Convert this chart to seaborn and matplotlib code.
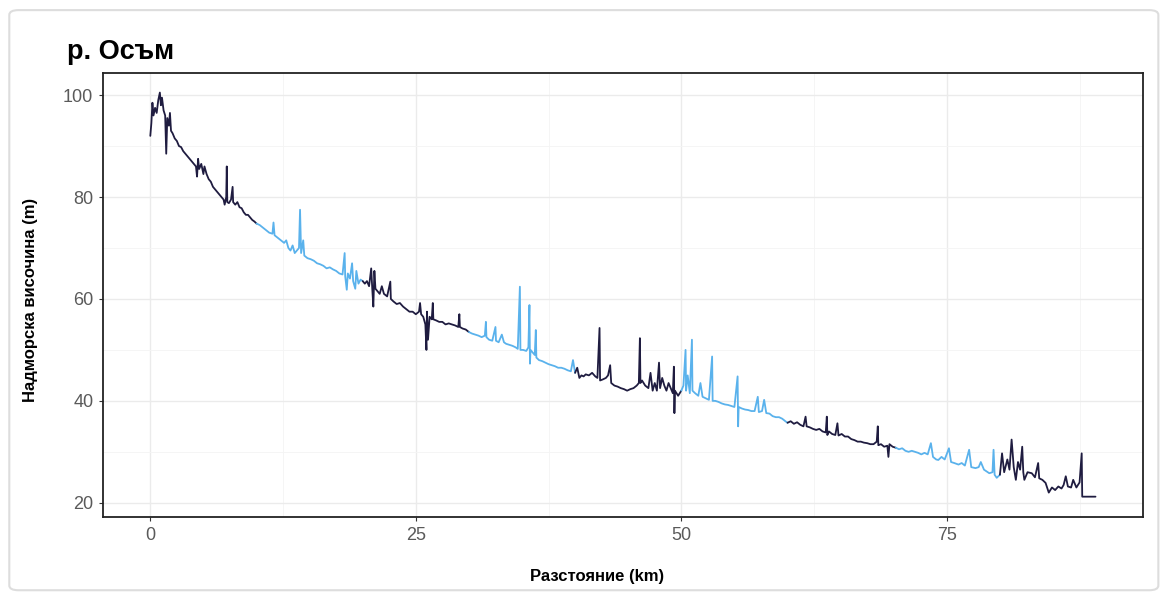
import matplotlib
matplotlib.use("Agg")
import matplotlib.pyplot as plt
from matplotlib.patches import FancyBboxPatch
import seaborn as sns
import pandas as pd

# разстояние (km) и надморска височина (m), отчетени от графиката
km = [0.0, 0.1, 0.2, 0.3, 0.45, 0.6, 0.75, 0.9, 1.0, 1.1, 1.25, 1.4, 1.5, 1.6, 1.75, 1.85, 1.95,
      2.1, 2.3, 2.5, 2.7, 2.9, 3.1, 3.3, 3.5, 3.7, 3.9, 4.1, 4.3, 4.4, 4.5, 4.6, 4.8, 5.0, 5.1,
      5.3, 5.5, 5.7, 5.9, 6.1, 6.3, 6.5, 6.7, 6.9, 7.0, 7.15, 7.2, 7.25, 7.4, 7.6, 7.75, 7.8,
      8.0, 8.2, 8.4, 8.6, 8.8, 9.0, 9.2, 9.4, 9.6, 9.8, 10.0,
      10.3, 10.6, 10.9, 11.2, 11.5, 11.6, 11.7, 12.0, 12.3, 12.6, 12.8, 13.0, 13.2, 13.4, 13.6,
      13.8, 14.0, 14.1, 14.2, 14.4, 14.5, 14.8, 15.1, 15.4, 15.7, 16.0, 16.3, 16.6, 16.9, 17.2,
      17.5, 17.8, 18.1, 18.3, 18.35, 18.5, 18.6, 18.8, 19.0, 19.1, 19.3, 19.4, 19.6, 19.8, 20.0,
      20.2, 20.4, 20.6, 20.8, 20.9, 21.0, 21.1, 21.2, 21.4, 21.6, 21.8, 22.0, 22.3, 22.6, 22.65,
      22.9, 23.2, 23.5, 23.8, 24.1, 24.4, 24.7, 25.0, 25.3, 25.4, 25.5, 25.7, 25.9, 26.0, 26.05,
      26.15, 26.3, 26.5, 26.6, 26.65, 26.9, 27.2, 27.5, 27.8, 28.1, 28.4, 28.7, 29.0, 29.1,
      29.15, 29.4, 29.7, 30.0,
      30.3, 30.6, 30.9, 31.2, 31.5, 31.6, 31.65, 31.9, 32.2, 32.5, 32.55, 32.8, 33.1, 33.3, 33.5,
      33.8, 34.1, 34.4, 34.6, 34.8, 34.85, 35.1, 35.4, 35.6, 35.7, 35.75, 35.8, 36.0, 36.2, 36.3,
      36.35, 36.6, 36.9, 37.2, 37.5, 37.8, 38.1, 38.4, 38.7, 39.0, 39.3, 39.6, 39.8, 40.0,
      40.2, 40.4, 40.6, 40.8, 41.0, 41.3, 41.6, 41.9, 42.1, 42.3, 42.35, 42.6, 42.9, 43.1, 43.3,
      43.4, 43.7, 44.0, 44.3, 44.6, 44.9, 45.2, 45.5, 45.8, 46.0, 46.1, 46.15, 46.3, 46.6, 46.9,
      47.1, 47.3, 47.5, 47.7, 47.9, 48.0, 48.2, 48.4, 48.6, 48.8, 49.0, 49.2, 49.3, 49.35, 49.4,
      49.7, 50.0,
      50.2, 50.4, 50.45, 50.6, 50.8, 51.0, 51.05, 51.3, 51.6, 51.8, 52.0, 52.3, 52.6, 52.9, 52.95,
      53.2, 53.5, 53.8, 54.1, 54.4, 54.7, 55.0, 55.3, 55.35, 55.4, 55.7, 56.0, 56.3, 56.6, 56.9,
      57.2, 57.3, 57.6, 57.8, 58.0, 58.3, 58.6, 58.9, 59.2, 59.5, 59.8, 60.0,
      60.3, 60.6, 60.9, 61.2, 61.5, 61.7, 61.8, 62.1, 62.4, 62.7, 63.0, 63.3, 63.6, 63.7, 63.75,
      63.9, 64.2, 64.5, 64.7, 64.8, 65.1, 65.4, 65.7, 66.0, 66.3, 66.6, 66.9, 67.2, 67.5, 67.8,
      68.1, 68.4, 68.5, 68.55, 68.8, 69.1, 69.4, 69.5, 69.6, 69.9,
      70.2, 70.5, 70.8, 71.1, 71.4, 71.7, 72.0, 72.3, 72.6, 72.9, 73.2, 73.5, 73.7, 74.0, 74.2,
      74.5, 74.8, 75.2, 75.4, 75.7, 76.1, 76.4, 76.7, 77.1, 77.3, 77.7, 78.0, 78.2, 78.5, 79.0,
      79.3, 79.4, 79.5, 79.7, 80.0,
      80.2, 80.4, 80.7, 80.9, 81.1, 81.3, 81.5, 81.7, 81.9, 82.1, 82.2, 82.3, 82.6, 83.0, 83.3,
      83.6, 83.7, 84.0, 84.3, 84.6, 84.9, 85.2, 85.5, 85.8, 86.0, 86.2, 86.4, 86.7, 86.9, 87.2,
      87.5, 87.7, 87.75, 88.2, 89.0]

elev = [92.0, 94.5, 98.5, 96.0, 97.5, 96.5, 99.0, 100.5, 98.0, 99.5, 97.0, 96.0, 88.5, 95.5, 94.0, 96.5, 93.0,
        92.5, 91.5, 91.0, 90.0, 89.8, 89.0, 88.5, 88.0, 87.5, 87.0, 86.5, 86.0, 84.0, 87.5, 85.5, 86.5, 84.5, 86.0,
        84.5, 83.5, 83.0, 82.0, 81.5, 81.0, 80.5, 80.0, 79.5, 78.5, 80.0, 86.0, 79.0, 78.8, 79.5, 82.0, 79.0,
        78.5, 79.0, 78.0, 77.8, 77.0, 76.5, 76.5, 76.0, 75.5, 75.2, 74.8,
        74.5, 74.0, 73.5, 73.0, 72.8, 75.0, 72.5, 72.0, 71.5, 71.0, 71.5, 70.0, 69.5, 70.5, 69.0,
        69.5, 70.0, 77.5, 69.0, 71.5, 68.5, 68.0, 67.8, 67.5, 67.0, 66.8, 66.5, 66.0, 66.2, 65.8,
        65.5, 65.0, 64.8, 69.0, 64.5, 61.8, 65.0, 64.0, 67.0, 63.5, 62.0, 65.5, 63.0, 63.8, 63.5,
        63.0, 63.5, 62.5, 66.0, 62.0, 58.5, 65.5, 62.0, 61.5, 61.0, 62.5, 61.0, 60.5, 63.4, 60.0,
        59.5, 59.0, 59.2, 58.5, 58.0, 57.5, 57.5, 57.0, 57.5, 59.2, 57.0, 56.5, 55.0, 50.0, 57.5,
        52.0, 56.5, 56.0, 59.2, 56.0, 55.8, 55.5, 55.5, 55.0, 55.2, 55.0, 54.8, 54.5, 57.0,
        54.5, 54.2, 54.0, 53.5,
        53.2, 53.0, 52.8, 52.5, 52.8, 55.5, 52.5, 52.0, 51.8, 54.5, 51.8, 51.5, 53.0, 51.5, 51.2,
        51.0, 50.8, 50.5, 50.2, 62.4, 50.0, 50.0, 49.8, 50.5, 58.8, 47.3, 50.0, 49.5, 49.0, 53.9,
        48.5, 48.0, 47.8, 47.5, 47.2, 47.0, 46.8, 46.5, 46.5, 46.3, 46.0, 45.8, 48.0, 45.5,
        46.5, 44.5, 45.0, 44.8, 45.2, 45.0, 45.5, 44.8, 44.5, 54.3, 44.0, 44.2, 44.5, 45.0, 47.0,
        43.5, 43.0, 42.8, 42.5, 42.3, 42.0, 42.3, 42.5, 43.0, 43.5, 52.3, 43.5, 44.0, 43.0, 42.5,
        45.5, 42.0, 43.5, 42.0, 47.5, 42.5, 44.5, 43.0, 42.0, 43.5, 42.5, 41.5, 46.7, 37.6, 42.0,
        41.0, 42.0,
        43.0, 50.0, 42.0, 45.0, 41.5, 52.0, 42.0, 41.5, 41.0, 43.5, 40.8, 40.5, 40.2, 48.7, 40.0,
        40.0, 39.8, 39.5, 39.3, 39.2, 39.0, 38.8, 44.8, 35.0, 38.8, 38.5, 38.3, 38.2, 38.0, 38.0,
        40.8, 37.8, 38.0, 40.2, 37.6, 37.5, 37.0, 36.8, 36.8, 36.5, 36.0, 35.7,
        36.0, 35.5, 35.8, 35.3, 35.0, 36.9, 35.0, 34.8, 34.5, 34.3, 34.5, 34.0, 33.8, 36.9, 33.3,
        34.0, 33.5, 33.3, 35.6, 33.2, 33.5, 33.0, 33.0, 32.5, 32.3, 32.0, 32.0, 31.8, 31.7, 31.5,
        31.5, 32.0, 35.0, 31.3, 31.5, 31.0, 31.2, 29.0, 31.5, 31.0,
        30.8, 30.5, 30.7, 30.2, 30.0, 30.2, 30.0, 29.8, 29.5, 29.8, 29.5, 31.7, 29.0, 28.5, 28.4,
        29.0, 28.5, 30.7, 28.0, 27.8, 27.5, 27.8, 27.3, 30.4, 27.0, 26.8, 27.0, 28.0, 26.5, 25.8,
        26.0, 30.4, 25.5, 24.9, 25.5,
        29.7, 26.0, 28.5, 26.5, 32.4, 27.0, 24.5, 28.0, 26.5, 31.0, 26.0, 24.5, 26.0, 25.8, 25.0,
        27.8, 24.8, 24.5, 23.9, 22.0, 23.0, 22.5, 23.2, 22.8, 23.5, 25.2, 23.2, 23.0, 24.5, 23.0,
        24.0, 29.7, 21.2, 21.2, 21.2]

x_ticks = [0, 25, 50, 75]
y_ticks = [20, 40, 60, 80, 100]
dark_col = "#1f1c40"
light_col = "#5ab2ec"

# участъци по 10 km, всеки свързан с първата точка на следващия
rows = []
n_seg = int(max(km) // 10) + 1
for s in range(n_seg):
    lo, hi = 10 * s, 10 * (s + 1)
    idx = [i for i, k in enumerate(km) if lo <= k < hi]
    nxt = [i for i, k in enumerate(km) if k >= hi]
    if nxt:
        idx.append(nxt[0])
    for i in idx:
        rows.append({"km": km[i], "elev": elev[i], "seg": s})
df = pd.DataFrame(rows)
palette = {s: (dark_col if s % 2 == 0 else light_col) for s in range(n_seg)}

sns.set_theme(style="white")
plt.rcParams["font.family"] = ["Liberation Sans", "DejaVu Sans"]

fig = plt.figure(figsize=(11.63, 5.95), dpi=100)
ax = fig.add_axes([0.0886, 0.131, 0.894, 0.746])

sns.lineplot(data=df, x="km", y="elev", hue="seg", palette=palette, estimator=None,
             sort=False, legend=False, linewidth=1.3, ax=ax)

ax.set_xlim(-4.45, 93.45)
ax.set_ylim(17.2, 104.3)
ax.set_xticks(x_ticks)
ax.set_yticks(y_ticks)
ax.set_xticks([12.5, 37.5, 62.5, 87.5], minor=True)
ax.set_yticks([30, 50, 70, 90], minor=True)
ax.grid(True, which="major", color="#ebebeb", linewidth=1.0)
ax.grid(True, which="minor", color="#f4f4f4", linewidth=0.6)
ax.set_axisbelow(True)
ax.tick_params(axis="both", which="major", length=3, width=0.8, color="#333333",
               labelsize=13, labelcolor="#5a5a5a", pad=4, bottom=True, left=True)
ax.tick_params(axis="both", which="minor", length=0)
for sp in ax.spines.values():
    sp.set_color("#222222")
    sp.set_linewidth(1.3)

ax.set_xlabel("Разстояние (km)", fontsize=12, fontweight="bold", color="black")
ax.set_ylabel("Надморска височина (m)", fontsize=12, fontweight="bold", color="black")
ax.xaxis.set_label_coords(0.475, -0.118)
ax.yaxis.set_label_coords(-0.063, 0.49)

fig.text(0.058, 0.913, "р. Осъм", fontsize=19.5, fontweight="bold", color="black",
         ha="left", va="center")

# светла рамка около цялата картинка
frame = FancyBboxPatch((0.008, 0.008), 0.988, 0.975, boxstyle="round,pad=0,rounding_size=0.008",
                       transform=fig.transFigure, facecolor="none", edgecolor="#dddddd",
                       linewidth=1.5, zorder=-1)
fig.patches.append(frame)

fig.savefig("out.png", dpi=100)
